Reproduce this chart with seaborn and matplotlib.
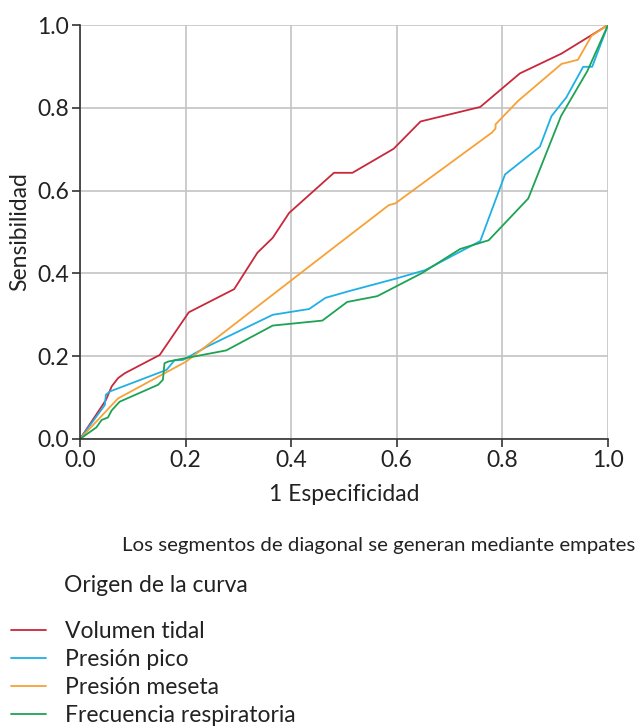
import numpy as np
import pandas as pd
import matplotlib
matplotlib.use("Agg")
import matplotlib.pyplot as plt
import seaborn as sns

# ~ curve points (1 - especificidad, sensibilidad)
vt_x = [0.0, 0.049, 0.060, 0.072, 0.085, 0.151, 0.206, 0.292, 0.336, 0.365, 0.396, 0.481, 0.516, 0.594, 0.645, 0.758, 0.833, 0.912, 1.0]
vt_y = [0.0, 0.094, 0.127, 0.147, 0.159, 0.203, 0.306, 0.362, 0.450, 0.486, 0.546, 0.643, 0.643, 0.701, 0.767, 0.802, 0.883, 0.931, 1.0]

pp_x = [0.0, 0.047, 0.049, 0.057, 0.164, 0.179, 0.195, 0.242, 0.365, 0.434, 0.465, 0.509, 0.597, 0.654, 0.758, 0.805, 0.871, 0.893, 0.921, 0.953, 0.970, 1.0]
pp_y = [0.0, 0.082, 0.107, 0.115, 0.167, 0.190, 0.191, 0.224, 0.300, 0.314, 0.341, 0.357, 0.387, 0.408, 0.478, 0.639, 0.706, 0.780, 0.825, 0.899, 0.899, 1.0]

pm_x = [0.0, 0.072, 0.201, 0.472, 0.585, 0.597, 0.780, 0.787, 0.787, 0.830, 0.912, 0.943, 0.969, 1.0]
pm_y = [0.0, 0.098, 0.187, 0.454, 0.565, 0.569, 0.740, 0.750, 0.760, 0.817, 0.906, 0.916, 0.974, 1.0]

fr_x = [0.0, 0.031, 0.041, 0.053, 0.060, 0.075, 0.148, 0.157, 0.160, 0.167, 0.182, 0.277, 0.365, 0.459, 0.506, 0.563, 0.648, 0.720, 0.774, 0.849, 0.911, 0.961, 1.0]
fr_y = [0.0, 0.028, 0.046, 0.052, 0.069, 0.090, 0.131, 0.143, 0.183, 0.187, 0.191, 0.214, 0.274, 0.286, 0.331, 0.345, 0.401, 0.459, 0.480, 0.581, 0.780, 0.889, 1.0]

names = ["Volumen tidal", "Presión pico", "Presión meseta", "Frecuencia respiratoria"]
colors = ["#c8283c", "#1fb0e6", "#f7a136", "#1da353"]

# ~ long format dataframe for seaborn
df = pd.concat([
    pd.DataFrame({"x": vt_x, "y": vt_y, "curva": names[0]}),
    pd.DataFrame({"x": pp_x, "y": pp_y, "curva": names[1]}),
    pd.DataFrame({"x": pm_x, "y": pm_y, "curva": names[2]}),
    pd.DataFrame({"x": fr_x, "y": fr_y, "curva": names[3]}),
], ignore_index=True)

sns.set_style("white")
plt.rcParams['font.family'] = ['Lato', 'DejaVu Sans']

fig = plt.figure(figsize=(6.38, 7.27), dpi=100)
ax = fig.add_axes([80/638, 1-439/727, 528/638, 414/727])

sns.lineplot(data=df, x="x", y="y", hue="curva", units="curva", estimator=None,
             sort=False, palette=dict(zip(names, colors)), linewidth=1.3,
             legend=False, ax=ax)

ax.set_xlim(0, 1)
ax.set_ylim(0, 1)
ticks = [0, 0.2, 0.4, 0.6, 0.8, 1.0]
ax.set_xticks(ticks)
ax.set_yticks(ticks)
ax.set_xticklabels(["%.1f" % t for t in ticks])
ax.set_yticklabels(["%.1f" % t for t in ticks])
ax.grid(True, color="#c4c4c4", linewidth=1.2)
ax.set_axisbelow(True)
for s in ["top", "right"]:
    ax.spines[s].set_visible(False)
for s in ["left", "bottom"]:
    ax.spines[s].set_color("#333333")
    ax.spines[s].set_linewidth(1.2)
ax.tick_params(axis="both", direction="out", length=6, width=1.2, color="#333333",
               labelsize=16.5, labelcolor="#222222", pad=2, left=True, bottom=True)
ax.set_xlabel("1 Especificidad", fontsize=16.5, color="#222222", labelpad=9)
ax.set_ylabel("Sensibilidad", fontsize=16.5, color="#222222", labelpad=5)

fig.text(635/638, 1-545/727, "Los segmentos de diagonal se generan mediante empates",
         ha="right", va="center", fontsize=14.7, color="#222222")
fig.text(64/638, 1-586/727, "Origen de la curva", ha="left", va="center",
         fontsize=16.5, color="#222222")

# ~ legend built from line handles
handles = [plt.Line2D([], [], color=c, linewidth=1.3) for c in colors]
fig.legend(handles, names, loc="upper left", bbox_to_anchor=(6/638, 1-616/727),
           frameon=False, fontsize=16.5, handlelength=1.53, handletextpad=0.83,
           labelspacing=0.31, borderaxespad=0, borderpad=0.2, labelcolor="#222222")

fig.savefig("out.png", dpi=100)
